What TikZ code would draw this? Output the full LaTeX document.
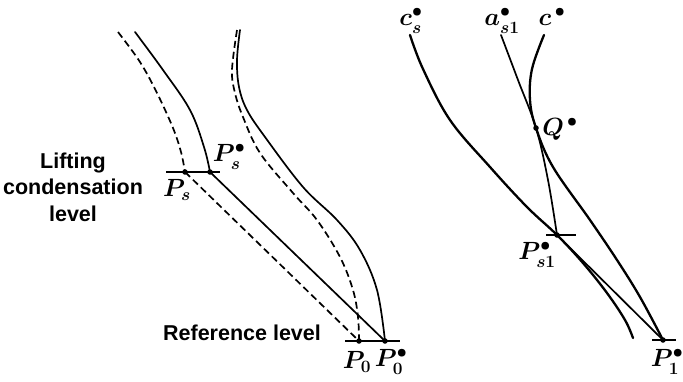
\documentclass[tikz,border=0pt]{standalone}
\usepackage{fontspec}
\setsansfont{Liberation Sans}
\usetikzlibrary{calc}
\tikzset{
  curve/.style={line width=1.7pt, line cap=round},
  thick curve/.style={line width=2.3pt, line cap=round},
  dash curve/.style={line width=1.7pt, dash pattern=on 7pt off 4pt},
  tick/.style={line width=1.7pt},
  pt/.style={circle, fill=black, inner sep=0pt, minimum size=5.5pt},
  lbl/.style={font=\sffamily\bfseries\fontsize{21.5}{26.5}\selectfont, align=center, inner sep=0pt},
  mlbl/.style={font=\fontsize{23}{27}\selectfont\boldmath, inner sep=0pt}
}
\begin{document}
\begin{tikzpicture}[x=1pt,y=-1pt]
\useasboundingbox (0,0) rectangle (683,381);
% key points
\coordinate (Ps) at (185,172);
\coordinate (Pss) at (210,172);
\coordinate (P0) at (359,341);
\coordinate (P0s) at (385,341);
\coordinate (Q) at (536,128);
\coordinate (Ps1) at (557,235);
\coordinate (P1) at (663,340);
% free ends
\coordinate (dL) at (118,32);
\coordinate (sL) at (135,32);
\coordinate (dR) at (237,30);
\coordinate (sR) at (240,30);
\coordinate (cs) at (410,35);
\coordinate (as) at (501,35);
\coordinate (cst) at (544,35);
\coordinate (csE) at (633,338);
% level ticks
\coordinate (tLa) at (166,172); \coordinate (tLb) at (220,172);
\coordinate (t0a) at (345,341); \coordinate (t0b) at (400,341);
\coordinate (t1a) at (546,235); \coordinate (t1b) at (576,235);
\coordinate (t2a) at (652,340); \coordinate (t2b) at (676,340);

% left diagram
\draw[dash curve] plot[smooth, tension=0.6] coordinates {(dL) (140,62) (157,93) (173,128) (181,152) (Ps)};
\draw[curve] plot[smooth, tension=0.6] coordinates {(sL) (163,70) (190,110) (204,147) (Pss)};
\draw[dash curve] plot[smooth, tension=0.6] coordinates {(dR) (232,70) (235,93) (243,117) (260,153) (293,193) (317,220) (340,257) (353,290) (358,317) (P0)};
\draw[curve] plot[smooth, tension=0.6] coordinates {(sR) (237,60) (239,87) (247,110) (265,137) (303,187) (337,220) (360,250) (377,290) (P0s)};
\draw[dash curve] (Ps) -- (P0);
\draw[curve] (Pss) -- (P0s);
\draw[tick] (tLa) -- (tLb);
\draw[tick] (t0a) -- (t0b);

% right diagram
\draw[thick curve] plot[smooth, tension=0.6] coordinates {(cs) (423,69) (450,120) (490,167) (527,207) (Ps1) (583,263) (607,293) (625,320) (csE)};
\draw[curve] plot[smooth, tension=0.6] coordinates {(as) (518,80) (Q) (548,180) (Ps1)};
\draw[thick curve] plot[smooth, tension=0.6] coordinates {(cst) (532,69) (530,100) (Q) (553,167) (590,220) (617,260) (640,297) (P1)};
\draw[curve] (Ps1) -- (P1);
\draw[tick] (t1a) -- (t1b);
\draw[tick] (t2a) -- (t2b);

% points
\node[pt] (nPs) at (Ps) {};
\node[pt] (nPss) at (Pss) {};
\node[pt] (nP0) at (P0) {};
\node[pt] (nP0s) at (P0s) {};
\node[pt] (nQ) at (Q) {};
\node[pt] (nPs1) at (Ps1) {};
\node[pt] (nP1) at (P1) {};

% labels
\node[lbl] (lcl) at (73,187) {Lifting\\condensation\\level};
\node[lbl] (ref) at (242,333) {Reference level};
\node[mlbl] (lPs) at (177,190) {$P_{s}$};
\node[mlbl] (lPss) at (229,157) {$P_{s}^{\bullet}$};
\node[mlbl] (lP0) at (357,362) {$P_{0}$};
\node[mlbl] (lP0s) at (391,362) {$P_{0}^{\bullet}$};
\node[mlbl, anchor=north] (lcs) at (411,8) {$c_{s}^{\bullet}$};
\node[mlbl, anchor=north] (las) at (502,8) {$a_{s1}^{\bullet}$};
\node[mlbl, anchor=north] (lc) at (552,8) {$c^{\,\bullet}$};
\node[mlbl] (lQ) at (560,129) {$Q^{\,\bullet}$};
\node[mlbl] (lPs1) at (537,255) {$P_{s1}^{\bullet}$};
\node[mlbl] (lP1) at (667,362) {$P_{1}^{\bullet}$};
\end{tikzpicture}
\end{document}
